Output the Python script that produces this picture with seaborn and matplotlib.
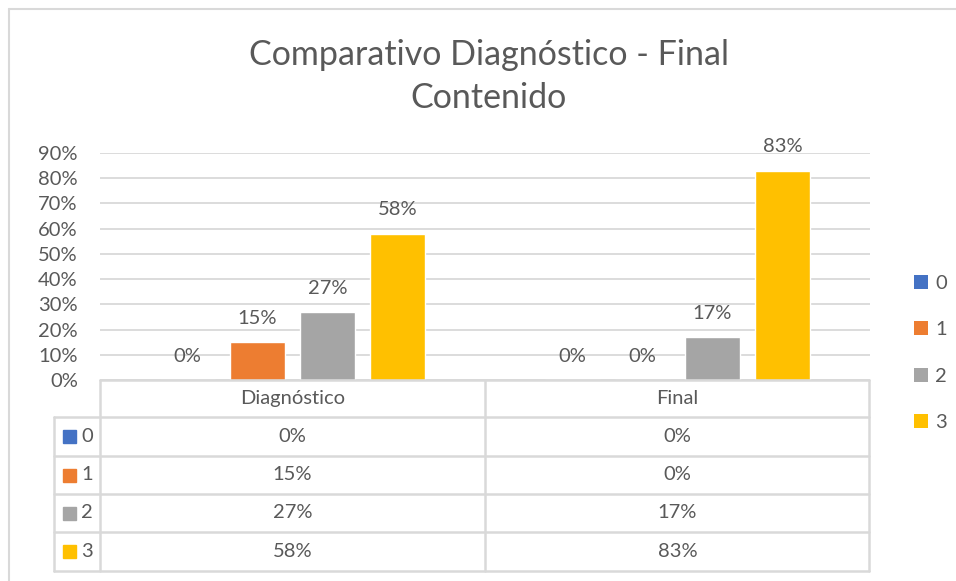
import numpy as np
import pandas as pd
import seaborn as sns
import matplotlib.pyplot as plt
from matplotlib.lines import Line2D
from matplotlib.patches import Patch
from matplotlib.transforms import blended_transform_factory

# Chart data
categories = ["Diagnóstico", "Final"]
levels = ["0", "1", "2", "3"]
values_diagnostico = [0.00, 0.15, 0.27, 0.58]
values_final = [0.00, 0.00, 0.17, 0.83]
level_colors = ["#4472C4", "#ED7D31", "#A5A5A5", "#FFC000"]
y_ticks = [0.0, 0.1, 0.2, 0.3, 0.4, 0.5, 0.6, 0.7, 0.8, 0.9]

TEXT_COLOR = "#595959"
LINE_COLOR = "#D9D9D9"
FONT_SIZE = 14.5
W, H = 956, 581


def fx(x: float) -> float:
    """Pixel x to figure fraction."""
    return x / W


def fy(y: float) -> float:
    """Pixel y (from top) to figure fraction."""
    return 1 - y / H


sns.set_theme(style = "white")
plt.rcParams["font.family"] = ["Lato", "DejaVu Sans"]

frame = pd.DataFrame(
    {
        "categoria": [categories[0]] * len(levels) + [categories[1]] * len(levels),
        "nivel": levels * 2,
        "valor": values_diagnostico + values_final
    }
)

fig = plt.figure(figsize = (W / 100, H / 100), dpi = 100)
ax = fig.add_axes([fx(100), fy(380), fx(870) - fx(100), fy(153) - fy(380)])

sns.barplot(
    data = frame, x = "categoria", y = "valor", hue = "nivel",
    hue_order = levels, palette = level_colors, width = 0.727, gap = 0.214,
    saturation = 1, legend = False, ax = ax
)
for container in ax.containers:
    ax.bar_label(container, fmt = "{:.0%}", padding = 11, fontsize = FONT_SIZE, color = TEXT_COLOR)

ax.set_ylim(0, 0.9)
ax.set_xlim(-0.5, 1.5)
ax.set_yticks(y_ticks)
ax.set_yticklabels([f"{t:.0%}" for t in y_ticks], fontsize = FONT_SIZE, color = TEXT_COLOR)
ax.tick_params(axis = "y", length = 0, pad = 16)
ax.set_xticks([])
ax.set_xlabel("")
ax.set_ylabel("")
ax.yaxis.grid(True, color = LINE_COLOR, linewidth = 1.3)
ax.set_axisbelow(True)
for side in ["left", "right", "top", "bottom"]:
    ax.spines[side].set_visible(False)

# Title
fig.text(fx(489), fy(55), "Comparativo Diagnóstico - Final", ha = "center", va = "center",
         fontsize = 24.5, color = TEXT_COLOR)
fig.text(fx(489), fy(98), "Contenido", ha = "center", va = "center",
         fontsize = 24.5, color = TEXT_COLOR)

# Outer chart border
fig.add_artist(Line2D([fx(9), fx(9)], [fy(9), fy(H + 5)], color = LINE_COLOR, linewidth = 1.5))
fig.add_artist(Line2D([fx(9), fx(W + 5)], [fy(9), fy(9)], color = LINE_COLOR, linewidth = 1.5))

# Data table
row_edges = [380, 417, 456, 494, 532, 571]
left_edge, key_edge, mid_edge, right_edge = 54, 100, 485, 869
lw = 1.8


def hline(y: float, x0: float, x1: float) -> None:
    fig.add_artist(Line2D([fx(x0), fx(x1)], [fy(y), fy(y)], color = LINE_COLOR, linewidth = lw))


def vline(x: float, y0: float, y1: float) -> None:
    fig.add_artist(Line2D([fx(x), fx(x)], [fy(y0), fy(y1)], color = LINE_COLOR, linewidth = lw))


hline(row_edges[0], key_edge, right_edge)
for y in row_edges[1:]:
    hline(y, left_edge, right_edge)
vline(left_edge, row_edges[1], row_edges[-1])
for x in [key_edge, mid_edge, right_edge]:
    vline(x, row_edges[0], row_edges[-1])

text_tr = blended_transform_factory(ax.transData, fig.transFigure)
for i, category in enumerate(categories):
    ax.text(i, fy((row_edges[0] + row_edges[1]) / 2), category, transform = text_tr,
            ha = "center", va = "center", fontsize = FONT_SIZE, color = TEXT_COLOR)
table_values = [values_diagnostico, values_final]
for j, level in enumerate(levels):
    yc = fy((row_edges[j + 1] + row_edges[j + 2]) / 2)
    for i in range(len(categories)):
        ax.text(i, yc, f"{table_values[i][j]:.0%}", transform = text_tr,
                ha = "center", va = "center", fontsize = FONT_SIZE, color = TEXT_COLOR)
    fig.add_artist(plt.Rectangle((fx(63), yc - 6.5 / H), 13 / W, 13 / H,
                                 color = level_colors[j], transform = fig.transFigure))
    fig.text(fx(81), yc, level, ha = "left", va = "center", fontsize = FONT_SIZE, color = TEXT_COLOR)

# Legend on the right
handles = [Patch(facecolor = c, edgecolor = "none") for c in level_colors]
fig.legend(
    handles, levels, loc = "center left", bbox_to_anchor = (fx(896), fy(353)),
    frameon = False, fontsize = FONT_SIZE, labelcolor = TEXT_COLOR,
    handlelength = 0.7, handleheight = 0.7, handletextpad = 0.35, labelspacing = 1.45
)

fig.savefig("out.png", dpi = 100)
